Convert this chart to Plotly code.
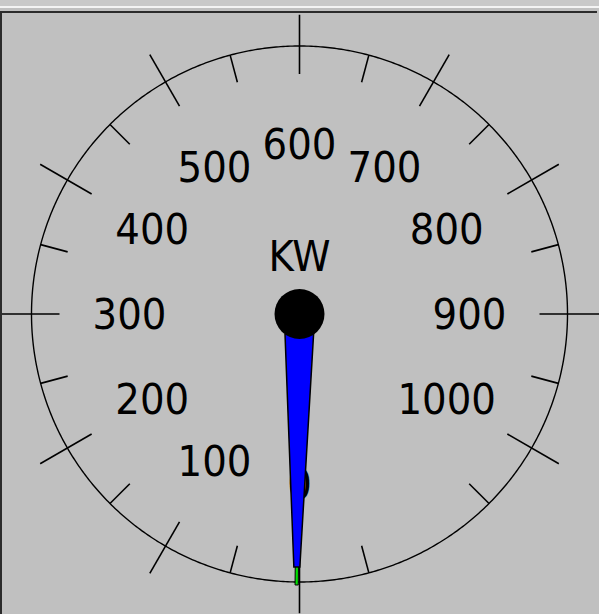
import numpy as np
import plotly.graph_objects as go

# Dial scale: one full turn is 1200 kW, zero at six o'clock, values increase clockwise
FULL_TURN = 1200
major_values = [0, 100, 200, 300, 400, 500, 600, 700, 800, 900, 1000]
minor_values = [50, 150, 250, 350, 450, 550, 650, 750, 850, 950, 1050, 1150]
label_values = [0, 100, 200, 300, 400, 500, 600, 700, 800, 900, 1000]
label_texts = ["0", "100", "200", "300", "400", "500", "600", "700", "800", "900", "1000"]
unit_text = "KW"
unit_anchor_value = 600
needle_value = 2
marker_value = 2

# Geometry in radial units (the polar radius spans R_MAX)
R_MAX = 299.5
R_RING = 268
R_MAJOR = (240, 300)
R_MINOR = (240, R_RING)
R_LABEL = 170
R_UNIT = 58
TEXT_DROP = 4  # nudge text baselines downward, px

BG = "#c0c0c0"
FONT = "DejaVu Sans Condensed, DejaVu Sans, sans-serif"


def to_deg(v):
    return np.asarray(v, dtype=float) * 360.0 / FULL_TURN


def segments(values, r_pair):
    r, th = [], []
    for t in to_deg(values):
        r += [r_pair[0], r_pair[1], None]
        th += [t, t, None]
    return r, th


def text_anchor(values, radius, drop):
    """Polar anchor for text at a value/radius, lowered by `drop` px on screen."""
    t = np.radians(to_deg(values))
    dx = -radius * np.sin(t)
    dy = radius * np.cos(t) + drop  # screen y grows downward
    return np.hypot(dx, dy), np.degrees(np.arctan2(-dx, dy))


def needle(value, profile):
    """Tapered needle outline; profile = [(distance, half_width), ...] from hub to tip."""
    base = float(to_deg(value))
    pts = [(s, w) for s, w in profile] + [(s, -w) for s, w in reversed(profile)]
    r = [np.hypot(s, w) for s, w in pts]
    th = [base + np.degrees(np.arctan2(w, s)) for s, w in pts]
    return r + [r[0]], th + [th[0]]


fig = go.Figure()

# Dial ring
ring_theta = np.linspace(0, 360, 721)
fig.add_trace(go.Scatterpolar(r=np.full_like(ring_theta, R_RING), theta=ring_theta,
                              mode="lines", line=dict(color="black", width=1.4),
                              hoverinfo="skip", cliponaxis=False))

# Major and minor ticks
r, th = segments(major_values, R_MAJOR)
fig.add_trace(go.Scatterpolar(r=r, theta=th, mode="lines",
                              line=dict(color="black", width=1.6),
                              hoverinfo="skip", cliponaxis=False))
r, th = segments(minor_values, R_MINOR)
fig.add_trace(go.Scatterpolar(r=r, theta=th, mode="lines",
                              line=dict(color="black", width=1.6),
                              hoverinfo="skip", cliponaxis=False))

# Scale numbers
r, th = text_anchor(label_values, R_LABEL, TEXT_DROP)
fig.add_trace(go.Scatterpolar(r=r, theta=th,
                              mode="text", text=label_texts, textposition="middle center",
                              textfont=dict(family=FONT, size=43, color="black"),
                              hoverinfo="skip", cliponaxis=False))

# Unit caption
r, th = text_anchor([unit_anchor_value], R_UNIT, TEXT_DROP)
fig.add_trace(go.Scatterpolar(r=r, theta=th,
                              mode="text", text=[unit_text], textposition="middle center",
                              textfont=dict(family=FONT, size=43, color="black"),
                              hoverinfo="skip", cliponaxis=False))

# Green marker pointer (under the main needle)
r, th = needle(marker_value, [(0, 2.0), (271, 1.6)])
fig.add_trace(go.Scatterpolar(r=r, theta=th, mode="lines", fill="toself",
                              fillcolor="#00e000", line=dict(color="black", width=1),
                              hoverinfo="skip", cliponaxis=False))

# Main blue needle
r, th = needle(needle_value, [(20, 14.3), (253, 3.0)])
fig.add_trace(go.Scatterpolar(r=r, theta=th, mode="lines", fill="toself",
                              fillcolor="#0000ff", line=dict(color="black", width=1.5),
                              hoverinfo="skip", cliponaxis=False))

# Hub
fig.add_trace(go.Scatterpolar(r=[0], theta=[0], mode="markers",
                              marker=dict(size=50, color="black", line=dict(width=0)),
                              hoverinfo="skip", cliponaxis=False))

W, H = 599, 614
cy = 314  # hub height from the top, px
y0 = (H - (cy + R_MAX)) / H
y1 = (H - (cy - R_MAX)) / H

fig.update_layout(
    width=W, height=H,
    margin=dict(l=0, r=0, t=0, b=0),
    paper_bgcolor=BG,
    showlegend=False,
    polar=dict(
        domain=dict(x=[0, 1], y=[y0, y1]),
        bgcolor=BG,
        radialaxis=dict(range=[0, R_MAX], visible=False, showgrid=False),
        angularaxis=dict(rotation=-90, direction="clockwise", visible=False,
                         showgrid=False, showline=False),
    ),
    shapes=[
        # window frame strips along the top and left edges
        dict(type="rect", xref="paper", yref="paper", x0=0, x1=1,
             ysizemode="pixel", yanchor=1, y0=0, y1=-6,
             fillcolor="#c9c9c9", line=dict(width=0)),
        dict(type="rect", xref="paper", yref="paper", x0=0, x1=1,
             ysizemode="pixel", yanchor=1, y0=-6, y1=-8,
             fillcolor="#f4f4f4", line=dict(width=0)),
        dict(type="rect", xref="paper", yref="paper", x0=0, x1=597 / W,
             ysizemode="pixel", yanchor=1, y0=-11, y1=-13,
             fillcolor="#2b2b2b", line=dict(width=0)),
        dict(type="rect", xref="paper", yref="paper",
             xsizemode="pixel", xanchor=0, x0=0, x1=2,
             ysizemode="pixel", yanchor=1, y0=-11, y1=-H,
             fillcolor="#2b2b2b", line=dict(width=0)),
    ],
)

fig.write_html("out.html")
